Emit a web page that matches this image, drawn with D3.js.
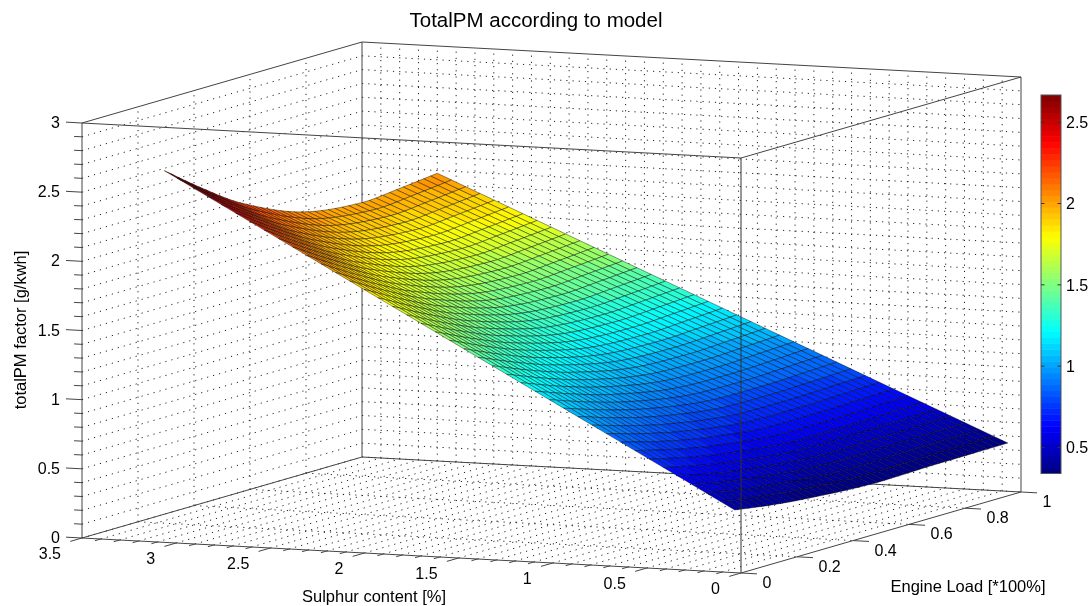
<!DOCTYPE html>
<html><head><meta charset="utf-8">
<script src="https://cdn.jsdelivr.net/npm/d3@7"></script>
<style>
html,body{margin:0;padding:0;background:#fff}
svg{display:block;filter:blur(0.35px)}
text{font-family:"Liberation Sans",Arial,sans-serif;fill:#000}
</style></head><body>
<svg id="c" width="1091" height="606"></svg>
<script>
// Values
const titleText = "TotalPM according to model";
const xLabel = "Sulphur content [%]";
const yLabel = "Engine Load [*100%]";
const zLabel = "totalPM factor [g/kwh]";
const sulphurTicks = [0,0.5,1,1.5,2,2.5,3,3.5];
const loadTicks = [0,0.2,0.4,0.6,0.8,1];
const zTicks = [0,0.5,1,1.5,2,2.5,3];
const colorTicks = [0.5,1,1.5,2,2.5];
const colorLimits = [0.34,2.667];
// surface edges as read: load positions, and factor at lowest / highest sulphur
const sulphurEnds = [0.07,3.1];
const loadKnots = [0.025,0.157,0.299,0.512,0.726,0.868,1];
const factorAtLowSulphur = [0.436,0.395,0.365,0.338,0.345,0.347,0.349];
const factorAtHighSulphur = [2.67,2.468,2.276,2.086,2.026,2.05,2.08];
const sulphurCells = 40, loadCells = 40;

const svg = d3.select("#c");
const ox = 741, oy = 573;
const xS = d3.scaleLinear([0,3.5],[0,-659]), yS = d3.scaleLinear([0,3.5],[0,-35]);
const xL = d3.scaleLinear([0,1],[0,280]),   yL = d3.scaleLinear([0,1],[0,-81]);
const yZ = d3.scaleLinear([0,3],[0,-415]);
const px = (s,l)=>ox+xS(s)+xL(l);
const py = (s,l,z)=>oy+yS(s)+yL(l)+yZ(z);
const pt = (s,l,z)=>[px(s,l),py(s,l,z)];

// jet colormap, 64 levels
const jet = d3.scaleLinear([0,.125,.375,.625,.875,1],["#00007f","#0000ff","#00ffff","#ffff00","#ff0000","#7f0000"]).clamp(true);
const levelScale = d3.scaleLinear(colorLimits,[0,64]).clamp(true);
const colorOf = z=>{const k=Math.min(63,Math.floor(levelScale(z)));return jet((k+.5)/64);};

// smooth resampling of the read edge values onto the mesh
function hermite(xs,ys){
  const n=xs.length,m=xs.map((_,i)=>{
    if(i===0)return (ys[1]-ys[0])/(xs[1]-xs[0]);
    if(i===n-1)return (ys[n-1]-ys[n-2])/(xs[n-1]-xs[n-2]);
    return (ys[i+1]-ys[i-1])/(xs[i+1]-xs[i-1]);});
  return x=>{
    let i=Math.min(n-2,Math.max(0,d3.bisectRight(xs,x)-1));
    const h=xs[i+1]-xs[i],t=(x-xs[i])/h,t2=t*t,t3=t2*t;
    return (2*t3-3*t2+1)*ys[i]+(t3-2*t2+t)*h*m[i]+(-2*t3+3*t2)*ys[i+1]+(t3-t2)*h*m[i+1];
  };
}
const lowAt = hermite(loadKnots,factorAtLowSulphur), highAt = hermite(loadKnots,factorAtHighSulphur);
const sMesh = d3.scaleLinear([0,sulphurCells],sulphurEnds);
const lMesh = d3.scaleLinear([0,loadCells],[loadKnots[0],loadKnots[loadKnots.length-1]]);
const zAt = (i,j)=>{const a=lowAt(lMesh(j)),b=highAt(lMesh(j));return a+(b-a)*i/sulphurCells;};

const gridStyle = sel=>sel.attr("stroke","#222").attr("stroke-width",1).attr("stroke-dasharray","1.2 5").attr("fill","none");
const seg = (g,a,b)=>g.append("line").attr("x1",a[0]).attr("y1",a[1]).attr("x2",b[0]).attr("y2",b[1]);
const grid = svg.append("g").call(gridStyle);
const sMax=3.5,zMax=3;
// z grid on left and back walls
d3.range(0,30).forEach(k=>{const z=k/10;
  seg(grid,pt(sMax,0,z),pt(sMax,1,z));
  seg(grid,pt(sMax,1,z),pt(0,1,z));
});
// load grid on left wall and floor
loadTicks.slice(1,-1).forEach(l=>{
  seg(grid,pt(sMax,l,0),pt(sMax,l,zMax));
  seg(grid,pt(sMax,l,0),pt(0,l,0));
});
// sulphur grid on back wall and floor
d3.range(1,35).forEach(k=>{const s=k/10;
  seg(grid,pt(s,1,0),pt(s,1,zMax));
  seg(grid,pt(s,0,0),pt(s,1,0));
});

// box, rear part
const box = svg.append("g").attr("stroke","#444").attr("stroke-width",1).attr("fill","none");
[[[sMax,0,0],[sMax,1,0]],[[sMax,1,0],[0,1,0]],[[sMax,1,0],[sMax,1,zMax]],
 [[sMax,0,0],[sMax,0,zMax]],[[0,1,0],[0,1,zMax]],
 [[sMax,0,zMax],[sMax,1,zMax]],[[sMax,1,zMax],[0,1,zMax]],[[sMax,0,zMax],[0,0,zMax]],[[0,0,zMax],[0,1,zMax]],
 [[sMax,0,0],[0,0,0]],[[0,0,0],[0,1,0]]
].forEach(([a,b])=>seg(box,pt(...a),pt(...b)));

// surface
const cells=[];
for(let i=sulphurCells-1;i>=0;i--)for(let j=loadCells-1;j>=0;j--)cells.push([i,j]);
const V=(i,j)=>pt(sMesh(i),lMesh(j),zAt(i,j));
svg.append("g").selectAll("path").data(cells).join("path")
  .attr("d",([i,j])=>"M"+[V(i,j),V(i+1,j),V(i+1,j+1),V(i,j+1)].join("L")+"Z")
  .attr("fill",([i,j])=>colorOf(zAt(i,j)))
  .attr("stroke","#000").attr("stroke-width",0.6).attr("stroke-opacity",0.7).attr("stroke-linejoin","round");

// front vertical edge over the surface
const front = svg.append("g").attr("stroke","#333").attr("stroke-width",1);
seg(front,pt(0,0,0),pt(0,0,zMax));

// ticks
const ticks = svg.append("g").attr("stroke","#444").attr("stroke-width",1);
const majS=0.042, minS=0.021, majZ=0.085, minZ=0.042;
d3.range(0,36).forEach(k=>{const s=k/10,maj=k%5===0,d=maj?majS:minS;
  seg(ticks,pt(s,0,0),pt(s,-d,0));});
loadTicks.forEach(l=>seg(ticks,pt(0,l,0),pt(-majZ,l,0)));
d3.range(0,31).forEach(k=>{const z=k/10,maj=k%5===0;
  seg(ticks,pt(sMax,0,z),pt(sMax+(maj?majZ:minZ),0,z));});

// tick labels
const lab = svg.append("g").attr("font-size",16);
const tickFmt = d=>String(d);
lab.selectAll(".s").data(sulphurTicks).join("text").attr("text-anchor","end")
  .attr("x",d=>px(d,0)-21).attr("y",d=>py(d,0,0)+21).text(tickFmt);
lab.selectAll(".l").data(loadTicks).join("text").attr("text-anchor","start")
  .attr("x",d=>px(0,d)+21.5).attr("y",d=>py(0,d,0)+15).text(tickFmt);
lab.selectAll(".z").data(zTicks).join("text").attr("text-anchor","end")
  .attr("x",60).attr("y",d=>oy-35+yZ(d)+5).text(tickFmt);

// titles
svg.append("text").attr("x",536).attr("y",27).attr("text-anchor","middle").attr("font-size",20.5).text(titleText);
svg.append("text").attr("x",374).attr("y",602).attr("text-anchor","middle").attr("font-size",16.5).text(xLabel);
svg.append("text").attr("x",968).attr("y",592).attr("text-anchor","middle").attr("font-size",16.5).text(yLabel);
svg.append("text").attr("transform","translate(26,330) rotate(-90)").attr("text-anchor","middle").attr("font-size",16.5).text(zLabel);

// colorbar
const cbX=1041,cbW=20;
const cbY=d3.scaleLinear(colorLimits,[473.5,95]);
const cb=svg.append("g");
const levels=d3.range(64);
const lvVal=k=>colorLimits[0]+(colorLimits[1]-colorLimits[0])*k/64;
cb.selectAll("rect").data(levels).join("rect")
  .attr("x",cbX).attr("width",cbW)
  .attr("y",k=>cbY(lvVal(k+1))).attr("height",k=>cbY(lvVal(k))-cbY(lvVal(k+1))+0.5)
  .attr("fill",k=>jet((k+.5)/64));
cb.append("rect").attr("x",cbX).attr("y",95).attr("width",cbW).attr("height",378.5).attr("fill","none").attr("stroke","#555");
colorTicks.forEach(v=>{
  const y=cbY(v);
  seg(cb.append("g").attr("stroke","#333"),[cbX,y],[cbX+3.5,y]);
  seg(cb.append("g").attr("stroke","#333"),[cbX+cbW-3.5,y],[cbX+cbW,y]);
  cb.append("text").attr("x",1066).attr("y",y+6).attr("font-size",16).text(tickFmt(v));
});
</script>
</body></html>
